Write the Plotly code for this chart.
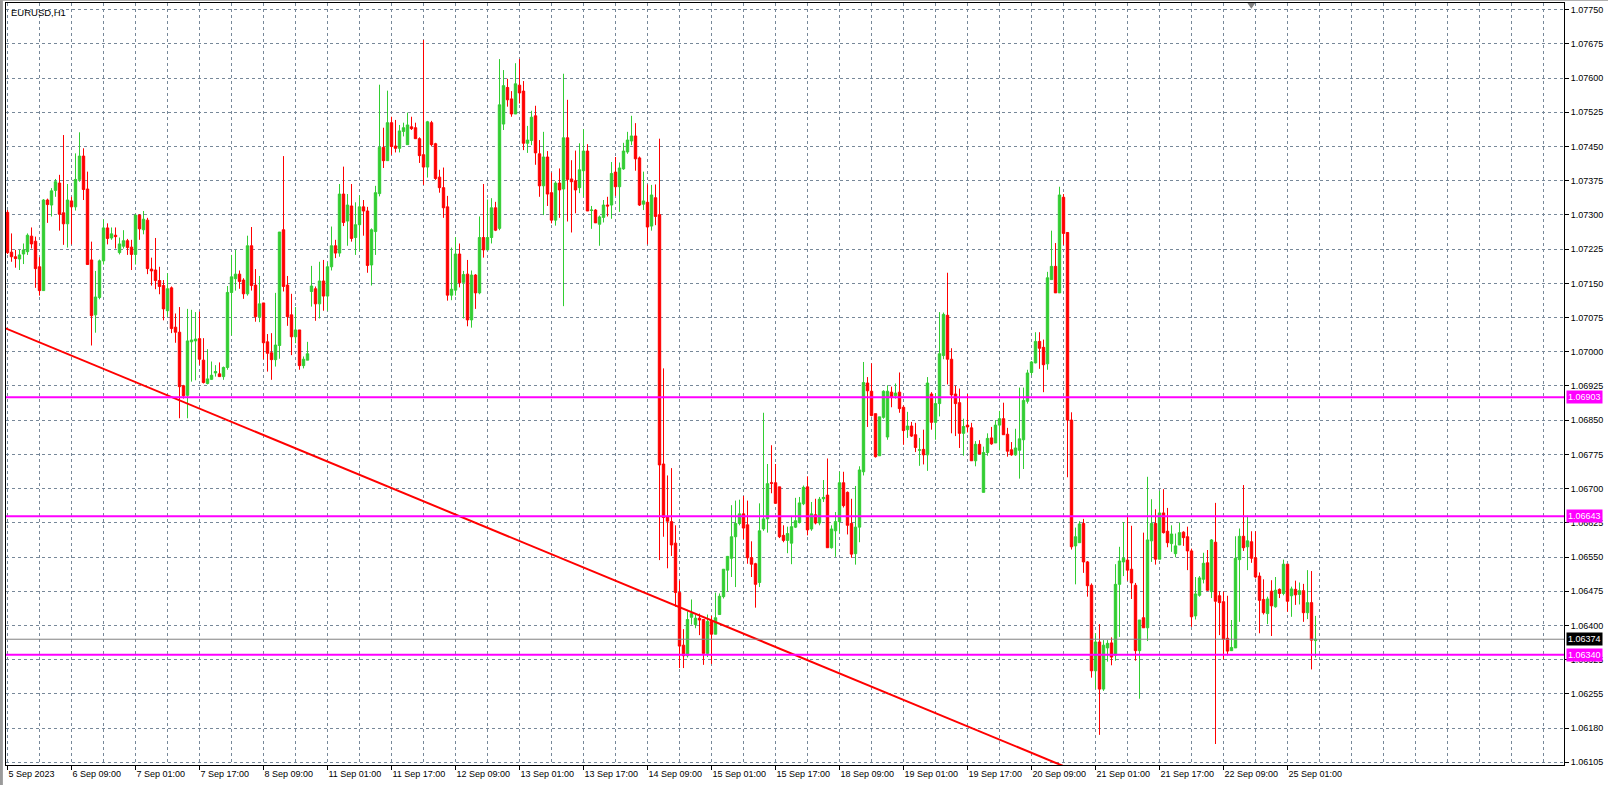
import plotly.graph_objects as go

chart_title = "EURUSD,H1"

opens = [1.07307,1.07220,1.07210,1.07205,1.07216,1.07221,1.07255,1.07244,1.07188,1.07136,
1.07334,1.07323,1.07355,1.07371,1.07306,1.07282,1.07332,1.07319,1.07379,1.07430,
1.07358,1.07203,1.07083,1.07121,1.07201,1.07273,1.07251,1.07257,1.07219,1.07233,
1.07245,1.07231,1.07215,1.07301,1.07269,1.07290,1.07183,1.07181,1.07158,1.07147,
1.07092,1.07142,1.07056,1.07045,1.06928,1.06907,1.07024,1.07026,1.07031,1.06984,
1.06933,1.06942,1.06956,1.06954,1.06948,1.06968,1.07132,1.07162,1.07172,1.07159,
1.07129,1.07234,1.07148,1.07079,1.07109,1.07024,1.07000,1.06985,1.07016,1.07269,
1.07148,1.07083,1.07035,1.07050,1.06972,1.06984,1.07134,1.07140,1.07107,1.07157,
1.07124,1.07188,1.07234,1.07218,1.07347,1.07288,1.07321,1.07252,1.07280,1.07319,
1.07310,1.07192,1.07265,1.07348,1.07449,1.07420,1.07503,1.07452,1.07447,1.07484,
1.07455,1.07494,1.07492,1.07468,1.07433,1.07406,1.07503,1.07457,1.07384,1.07361,
1.07319,1.07126,1.07137,1.07216,1.07154,1.07172,1.07072,1.07170,1.07131,1.07252,
1.07225,1.07252,1.07317,1.07272,1.07500,1.07580,1.07555,1.07522,1.07585,1.07572,
1.07458,1.07464,1.07518,1.07435,1.07365,1.07428,1.07350,1.07290,1.07371,1.07358,
1.07470,1.07380,1.07376,1.07361,1.07398,1.07441,1.07311,1.07312,1.07281,1.07296,
1.07323,1.07323,1.07395,1.07363,1.07402,1.07439,1.07463,1.07474,1.07426,1.07325,
1.07329,1.07277,1.07339,1.07302,1.06757,1.06642,1.06631,1.06584,1.06476,1.06361,
1.06338,1.06422,1.06406,1.06420,1.06417,1.06343,1.06413,1.06385,1.06428,1.06467,
1.06525,1.06551,1.06598,1.06627,1.06648,1.06624,1.06552,1.06539,1.06498,1.06615,
1.06637,1.06716,1.06716,1.06707,1.06601,1.06590,1.06584,1.06619,1.06629,1.06670,
1.06707,1.06615,1.06646,1.06628,1.06681,1.06689,1.06574,1.06611,1.06631,1.06716,
1.06695,1.06627,1.06561,1.06619,1.06740,1.06934,1.06916,1.06867,1.06775,1.06859,
1.06816,1.06914,1.06906,1.06914,1.06881,1.06832,1.06840,1.06821,1.06787,1.06789,
1.06777,1.06910,1.06848,1.06889,1.06994,1.07082,1.06986,1.06910,1.06891,1.06824,
1.06842,1.06836,1.06764,1.06800,1.06695,1.06782,1.06814,1.06803,1.06842,1.06856,
1.06822,1.06788,1.06777,1.06787,1.06810,1.06894,1.06957,1.06978,1.07025,1.07012,
1.06976,1.07160,1.07189,1.07131,1.07340,1.07263,1.06853,1.06578,1.06585,1.06627,
1.06543,1.06492,1.06305,1.06368,1.06265,1.06355,1.06366,1.06339,1.06494,1.06543,
1.06547,1.06527,1.06492,1.06349,1.06421,1.06399,1.06589,1.06627,1.06549,1.06650,
1.06610,1.06583,1.06561,1.06580,1.06608,1.06598,1.06567,1.06425,1.06470,1.06505,
1.06541,1.06478,1.06586,1.06469,1.06456,1.06376,1.06349,1.06355,1.06548,1.06599,
1.06576,1.06587,1.06552,1.06512,1.06461,1.06430,1.06479,1.06445,1.06483,1.06474,
1.06538,1.06469,1.06483,1.06472,1.06480,1.06432,1.06454,1.06371]

highs = [1.07312,1.07261,1.07225,1.07225,1.07239,1.07261,1.07274,1.07254,1.07209,1.07336,
1.07337,1.07360,1.07380,1.07389,1.07476,1.07369,1.07341,1.07436,1.07482,1.07447,
1.07396,1.07243,1.07179,1.07204,1.07292,1.07283,1.07274,1.07274,1.07252,1.07268,
1.07249,1.07247,1.07303,1.07303,1.07310,1.07295,1.07208,1.07251,1.07188,1.07159,
1.07174,1.07145,1.07086,1.07100,1.06930,1.07096,1.07094,1.07089,1.07090,1.07032,
1.07008,1.06981,1.06973,1.06979,1.06970,1.07146,1.07214,1.07225,1.07180,1.07163,
1.07256,1.07275,1.07183,1.07168,1.07109,1.07041,1.07043,1.07131,1.07264,1.07430,
1.07168,1.07129,1.07100,1.07050,1.06992,1.07024,1.07190,1.07145,1.07199,1.07203,
1.07198,1.07276,1.07247,1.07369,1.07407,1.07347,1.07369,1.07329,1.07344,1.07334,
1.07319,1.07272,1.07365,1.07586,1.07492,1.07573,1.07516,1.07509,1.07498,1.07503,
1.07525,1.07516,1.07503,1.07471,1.07684,1.07507,1.07507,1.07459,1.07400,1.07405,
1.07343,1.07230,1.07253,1.07239,1.07179,1.07203,1.07180,1.07172,1.07298,1.07369,
1.07335,1.07338,1.07330,1.07642,1.07618,1.07599,1.07572,1.07633,1.07642,1.07594,
1.07496,1.07529,1.07540,1.07465,1.07483,1.07441,1.07394,1.07375,1.07403,1.07610,
1.07553,1.07421,1.07442,1.07458,1.07489,1.07456,1.07321,1.07314,1.07300,1.07334,
1.07341,1.07417,1.07428,1.07416,1.07459,1.07483,1.07518,1.07502,1.07429,1.07396,
1.07368,1.07367,1.07368,1.07468,1.06966,1.06732,1.06748,1.06623,1.06502,1.06396,
1.06435,1.06461,1.06428,1.06430,1.06417,1.06428,1.06425,1.06476,1.06474,1.06527,
1.06556,1.06667,1.06677,1.06679,1.06687,1.06677,1.06588,1.06541,1.06671,1.06869,
1.06757,1.06798,1.06757,1.06707,1.06623,1.06620,1.06642,1.06683,1.06685,1.06710,
1.06730,1.06674,1.06681,1.06685,1.06722,1.06769,1.06623,1.06652,1.06740,1.06740,
1.06697,1.06681,1.06709,1.06752,1.06980,1.06947,1.06977,1.06867,1.06860,1.06918,
1.06929,1.06926,1.06933,1.06957,1.06885,1.06871,1.06849,1.06847,1.06814,1.06832,
1.06947,1.06914,1.06912,1.07089,1.07088,1.07175,1.07010,1.06928,1.06922,1.06856,
1.06910,1.06847,1.06807,1.06809,1.06795,1.06824,1.06838,1.06853,1.06873,1.06891,
1.06836,1.06805,1.06834,1.06924,1.06924,1.06963,1.06982,1.07045,1.07045,1.07029,
1.07177,1.07267,1.07240,1.07363,1.07347,1.07263,1.06870,1.06618,1.06632,1.06637,
1.06545,1.06496,1.06387,1.06407,1.06372,1.06372,1.06378,1.06538,1.06576,1.06630,
1.06642,1.06622,1.06497,1.06416,1.06607,1.06729,1.06680,1.06658,1.06698,1.06702,
1.06661,1.06623,1.06605,1.06629,1.06610,1.06620,1.06572,1.06510,1.06512,1.06563,
1.06569,1.06593,1.06672,1.06479,1.06478,1.06469,1.06416,1.06599,1.06616,1.06711,
1.06644,1.06610,1.06610,1.06520,1.06505,1.06467,1.06503,1.06510,1.06485,1.06548,
1.06538,1.06489,1.06502,1.06498,1.06495,1.06525,1.06523,1.06425]

lows = [1.07216,1.07199,1.07186,1.07181,1.07194,1.07214,1.07228,1.07142,1.07125,1.07136,
1.07284,1.07298,1.07341,1.07267,1.07236,1.07230,1.07237,1.07311,1.07374,1.07334,
1.07193,1.07016,1.07044,1.07117,1.07193,1.07237,1.07247,1.07228,1.07215,1.07228,
1.07214,1.07181,1.07193,1.07247,1.07259,1.07172,1.07147,1.07139,1.07128,1.07071,
1.07079,1.07043,1.07022,1.06857,1.06900,1.06857,1.06937,1.06940,1.06974,1.06933,
1.06931,1.06941,1.06948,1.06948,1.06941,1.06963,1.07038,1.07136,1.07140,1.07118,
1.07125,1.07136,1.07068,1.07067,1.06986,1.06959,1.06941,1.06970,1.06987,1.07134,
1.07059,1.06995,1.07021,1.06963,1.06966,1.06984,1.07101,1.07070,1.07075,1.07092,
1.07092,1.07180,1.07207,1.07210,1.07277,1.07234,1.07243,1.07214,1.07223,1.07256,
1.07175,1.07147,1.07214,1.07342,1.07404,1.07420,1.07433,1.07438,1.07438,1.07473,
1.07455,1.07487,1.07468,1.07415,1.07367,1.07383,1.07451,1.07378,1.07350,1.07295,
1.07114,1.07115,1.07125,1.07143,1.07075,1.07058,1.07055,1.07096,1.07128,1.07208,
1.07225,1.07239,1.07266,1.07268,1.07487,1.07538,1.07516,1.07522,1.07545,1.07443,
1.07437,1.07454,1.07411,1.07341,1.07301,1.07321,1.07283,1.07278,1.07295,1.07102,
1.07287,1.07263,1.07305,1.07349,1.07341,1.07310,1.07271,1.07284,1.07234,1.07285,
1.07298,1.07293,1.07343,1.07308,1.07400,1.07435,1.07454,1.07398,1.07321,1.07312,
1.07237,1.07267,1.07279,1.06547,1.06598,1.06529,1.06556,1.06445,1.06311,1.06311,
1.06334,1.06406,1.06398,1.06383,1.06318,1.06335,1.06320,1.06385,1.06428,1.06463,
1.06478,1.06510,1.06488,1.06623,1.06593,1.06539,1.06510,1.06443,1.06488,1.06611,
1.06607,1.06693,1.06671,1.06595,1.06586,1.06562,1.06538,1.06617,1.06627,1.06667,
1.06601,1.06611,1.06625,1.06623,1.06674,1.06574,1.06572,1.06554,1.06606,1.06662,
1.06603,1.06552,1.06537,1.06586,1.06732,1.06838,1.06861,1.06771,1.06775,1.06856,
1.06810,1.06881,1.06900,1.06869,1.06799,1.06814,1.06816,1.06783,1.06753,1.06756,
1.06742,1.06832,1.06810,1.06861,1.06986,1.06931,1.06824,1.06818,1.06792,1.06775,
1.06826,1.06764,1.06752,1.06778,1.06695,1.06775,1.06799,1.06803,1.06787,1.06821,
1.06773,1.06775,1.06775,1.06725,1.06746,1.06889,1.06951,1.06977,1.06965,1.06914,
1.06963,1.07160,1.07131,1.07131,1.07236,1.06728,1.06570,1.06494,1.06585,1.06519,
1.06467,1.06290,1.06266,1.06165,1.06261,1.06325,1.06317,1.06327,1.06379,1.06512,
1.06502,1.06462,1.06327,1.06244,1.06399,1.06370,1.06543,1.06537,1.06549,1.06605,
1.06575,1.06565,1.06553,1.06580,1.06578,1.06525,1.06401,1.06417,1.06467,1.06496,
1.06480,1.06464,1.06145,1.06383,1.06330,1.06339,1.06349,1.06355,1.06412,1.06567,
1.06525,1.06541,1.06507,1.06387,1.06428,1.06407,1.06381,1.06443,1.06464,1.06470,
1.06434,1.06423,1.06449,1.06450,1.06412,1.06418,1.06308,1.06334]

closes = [1.07219,1.07210,1.07206,1.07214,1.07225,1.07257,1.07238,1.07184,1.07136,1.07334,
1.07324,1.07354,1.07374,1.07303,1.07282,1.07334,1.07319,1.07379,1.07430,1.07357,
1.07193,1.07081,1.07122,1.07201,1.07273,1.07250,1.07260,1.07254,1.07238,1.07245,
1.07230,1.07215,1.07301,1.07271,1.07292,1.07184,1.07179,1.07158,1.07145,1.07096,
1.07140,1.07053,1.07045,1.06926,1.06906,1.07026,1.07028,1.07030,1.06986,1.06935,
1.06943,1.06951,1.06959,1.06948,1.06968,1.07132,1.07166,1.07172,1.07156,1.07129,
1.07234,1.07147,1.07079,1.07107,1.07022,1.06999,1.06985,1.07017,1.07264,1.07145,
1.07079,1.07035,1.07050,1.06972,1.06986,1.06998,1.07146,1.07107,1.07157,1.07124,
1.07188,1.07234,1.07218,1.07347,1.07285,1.07323,1.07250,1.07280,1.07319,1.07310,
1.07191,1.07269,1.07350,1.07449,1.07420,1.07503,1.07451,1.07447,1.07485,1.07492,
1.07498,1.07490,1.07468,1.07431,1.07406,1.07505,1.07455,1.07381,1.07361,1.07317,
1.07126,1.07139,1.07216,1.07153,1.07171,1.07072,1.07170,1.07131,1.07252,1.07225,
1.07252,1.07317,1.07268,1.07542,1.07584,1.07553,1.07522,1.07588,1.07568,1.07458,
1.07465,1.07515,1.07437,1.07365,1.07428,1.07347,1.07290,1.07371,1.07356,1.07470,
1.07379,1.07374,1.07356,1.07400,1.07441,1.07310,1.07312,1.07284,1.07297,1.07323,
1.07321,1.07392,1.07363,1.07404,1.07441,1.07465,1.07474,1.07424,1.07323,1.07332,
1.07275,1.07345,1.07298,1.06755,1.06640,1.06632,1.06580,1.06476,1.06359,1.06338,
1.06417,1.06430,1.06420,1.06416,1.06343,1.06413,1.06385,1.06421,1.06468,1.06527,
1.06555,1.06598,1.06627,1.06648,1.06617,1.06552,1.06538,1.06494,1.06611,1.06637,
1.06714,1.06715,1.06671,1.06598,1.06590,1.06605,1.06620,1.06633,1.06672,1.06706,
1.06613,1.06648,1.06628,1.06680,1.06684,1.06574,1.06615,1.06631,1.06716,1.06666,
1.06623,1.06560,1.06619,1.06744,1.06935,1.06917,1.06863,1.06773,1.06860,1.06916,
1.06916,1.06904,1.06912,1.06878,1.06830,1.06840,1.06818,1.06793,1.06788,1.06777,
1.06934,1.06848,1.06889,1.06998,1.07084,1.06986,1.06908,1.06889,1.06824,1.06839,
1.06838,1.06764,1.06800,1.06779,1.06782,1.06813,1.06801,1.06842,1.06856,1.06821,
1.06785,1.06777,1.06792,1.06812,1.06896,1.06956,1.06980,1.07025,1.07010,1.06974,
1.07164,1.07189,1.07131,1.07345,1.07261,1.06853,1.06576,1.06598,1.06626,1.06543,
1.06491,1.06305,1.06368,1.06265,1.06361,1.06365,1.06335,1.06494,1.06545,1.06551,
1.06525,1.06497,1.06349,1.06416,1.06399,1.06591,1.06627,1.06549,1.06650,1.06607,
1.06585,1.06604,1.06578,1.06607,1.06596,1.06567,1.06423,1.06473,1.06508,1.06540,
1.06481,1.06591,1.06457,1.06454,1.06374,1.06348,1.06356,1.06551,1.06599,1.06574,
1.06589,1.06551,1.06510,1.06459,1.06432,1.06462,1.06447,1.06481,1.06474,1.06538,
1.06457,1.06484,1.06471,1.06480,1.06432,1.06454,1.06372,1.06374]

bar_index = list(range(len(opens)))

time_label_bars = [0, 16, 32, 48, 64, 80, 96, 112, 128, 144, 160, 176, 192, 208, 224, 240, 256, 272, 288, 304, 320]
time_labels = ["5 Sep 2023", "6 Sep 09:00", "7 Sep 01:00", "7 Sep 17:00", "8 Sep 09:00", "11 Sep 01:00",
               "11 Sep 17:00", "12 Sep 09:00", "13 Sep 01:00", "13 Sep 17:00", "14 Sep 09:00", "15 Sep 01:00",
               "15 Sep 17:00", "18 Sep 09:00", "19 Sep 01:00", "19 Sep 17:00", "20 Sep 09:00", "21 Sep 01:00",
               "21 Sep 17:00", "22 Sep 09:00", "25 Sep 01:00"]

price_tick_values = [1.077500, 1.076752, 1.076005, 1.075257, 1.074509, 1.073761, 1.073014, 1.072266,
                     1.071518, 1.070770, 1.070023, 1.069275, 1.068527, 1.067780, 1.067032, 1.066284,
                     1.065536, 1.064789, 1.064041, 1.063293, 1.062545, 1.061798, 1.061050]
price_tick_labels = ["1.07750", "1.07675", "1.07600", "1.07525", "1.07450", "1.07375", "1.07300", "1.07225",
                     "1.07150", "1.07075", "1.07000", "1.06925", "1.06850", "1.06775", "1.06700", "1.06625",
                     "1.06550", "1.06475", "1.06400", "1.06325", "1.06255", "1.06180", "1.06105"]

level_prices = [1.06903, 1.06643, 1.06340]
level_labels = ["1.06903", "1.06643", "1.06340"]
bid_price = 1.06374
bid_label = "1.06374"

trend_bars = [-2, 270]
trend_prices = [1.07059, 1.06075]

UP = "#32CD32"
DOWN = "#FF0000"
GRID = "#778899"
FONT = "Liberation Sans, Arial, sans-serif"

fig = go.Figure()
fig.add_trace(go.Candlestick(
    x=bar_index, open=opens, high=highs, low=lows, close=closes,
    increasing=dict(line=dict(color=UP, width=1), fillcolor=UP),
    decreasing=dict(line=dict(color=DOWN, width=1), fillcolor=DOWN),
    whiskerwidth=0, showlegend=False, hoverinfo="skip"))

fig.add_trace(go.Scatter(x=trend_bars, y=trend_prices, mode="lines",
                         line=dict(color="#FF0000", width=2), showlegend=False, hoverinfo="skip"))

for p in level_prices:
    fig.add_shape(type="line", xref="paper", x0=0, x1=1, yref="y", y0=p, y1=p,
                  line=dict(color="#FF00FF", width=2), layer="above")
fig.add_shape(type="line", xref="paper", x0=0, x1=1, yref="y", y0=bid_price, y1=bid_price,
              line=dict(color="#808080", width=1), layer="above")

for p, t in zip(level_prices, level_labels):
    fig.add_annotation(x=1, xref="paper", xanchor="left", xshift=2, y=p, yref="y", yanchor="middle",
                       text=t, showarrow=False, bgcolor="#FF00FF", borderpad=1,
                       font=dict(family=FONT, size=9, color="white"))
fig.add_annotation(x=1, xref="paper", xanchor="left", xshift=2, y=bid_price, yref="y", yanchor="middle",
                   text=bid_label, showarrow=False, bgcolor="#000000", borderpad=1,
                   font=dict(family=FONT, size=9, color="white"))

fig.add_annotation(x=0, xref="paper", xanchor="left", xshift=3, y=1, yref="paper", yanchor="top", yshift=-2,
                   text=chart_title, showarrow=False, font=dict(family=FONT, size=9.5, color="black"))

# chart shift marker
fig.add_shape(type="path", xref="paper", yref="paper",
              path="M 0.7968 1.0 L 0.8019 1.0 L 0.7993 0.9925 Z",
              fillcolor="#808080", line=dict(color="#808080", width=0))
# window edges
fig.add_shape(type="rect", xref="paper", yref="paper", x0=-0.0039, x1=-0.0020, y0=-0.03, y1=1.004,
              fillcolor="#9a9a9a", line=dict(width=0))
fig.add_shape(type="line", xref="paper", yref="paper", x0=-0.004, x1=1.03, y0=1.0035, y1=1.0035,
              line=dict(color="#a0a0a0", width=1))

fig.update_layout(
    width=1608, height=785,
    margin=dict(l=6, r=44, t=3, b=20),
    paper_bgcolor="white", plot_bgcolor="white",
    font=dict(family=FONT, size=9, color="black"),
    showlegend=False,
    boxgap=0.4, boxgroupgap=0,
    xaxis=dict(
        range=[-0.375, 389.125], rangeslider=dict(visible=False),
        tickmode="array", tickvals=time_label_bars, ticktext=time_labels,
        ticks="outside", ticklen=4, tickcolor="black", ticklabelposition="outside right",
        showgrid=True, gridcolor=GRID, griddash="3px,3px", gridwidth=1,
        minor=dict(dtick=8, tick0=0, showgrid=True, gridcolor=GRID, griddash="3px,3px", ticks=""),
        showline=True, linecolor="black", linewidth=1, mirror=True, zeroline=False,
        tickfont=dict(family=FONT, size=9, color="black"),
    ),
    yaxis=dict(
        side="right", range=[1.060991, 1.077646],
        tickmode="array", tickvals=price_tick_values, ticktext=price_tick_labels,
        ticks="outside", ticklen=4, tickcolor="black",
        showgrid=True, gridcolor=GRID, griddash="3px,3px", gridwidth=1,
        showline=True, linecolor="black", linewidth=1, mirror=True, zeroline=False,
        tickfont=dict(family=FONT, size=9, color="black"),
    ),
)

fig.write_html("out.html", config={"displayModeBar": False},
               post_script="document.body.style.margin='0';document.body.style.overflow='hidden';")
